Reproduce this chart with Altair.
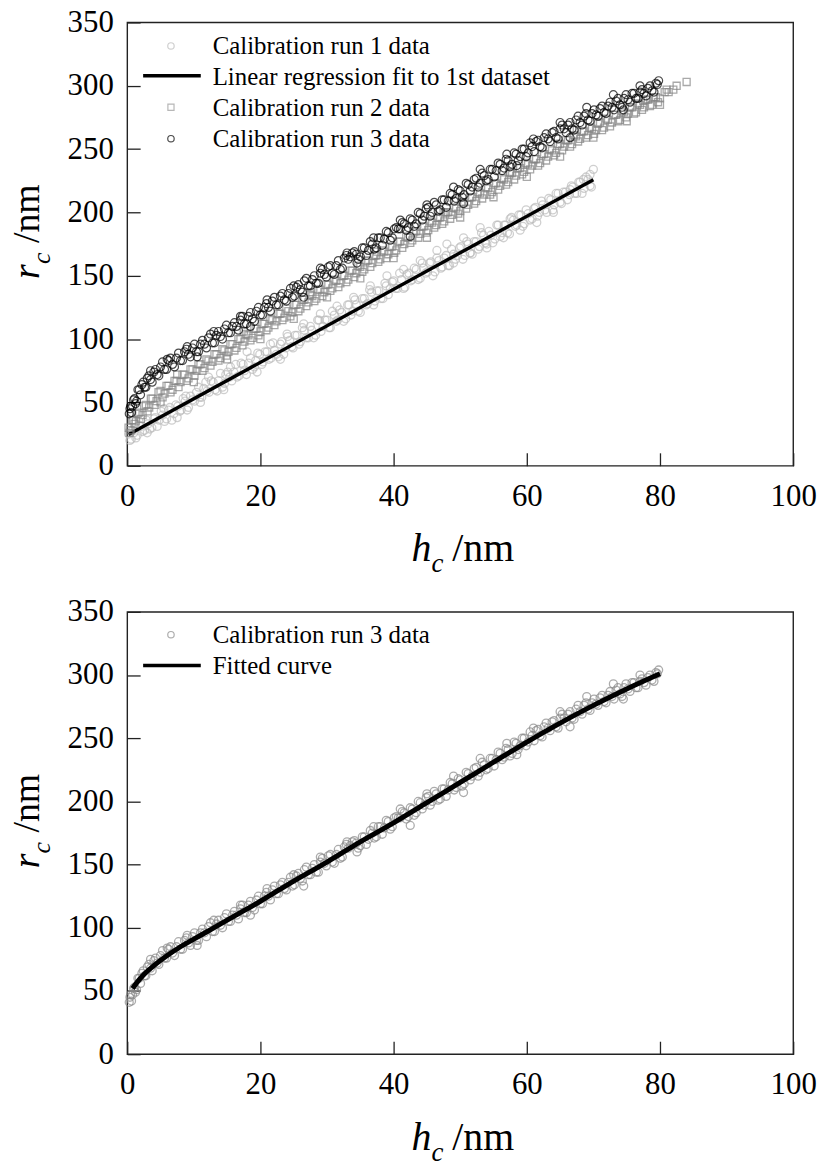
import altair as alt
import pandas as pd

# ---------------- data ----------------
run1_h = [0.2,0.6,1.0,1.5,2.0,2.6,3.1,3.7,4.2,4.8,5.3,5.9,6.4,7.0,7.6,8.1,8.7,9.2,9.8,10.4,10.9,11.5,12.0,12.6,13.2,13.7,14.3,14.8,15.4,16.0,
          16.5,17.1,17.6,18.2,18.8,19.3,19.9,20.4,21.0,21.6,22.1,22.7,23.2,23.8,24.4,24.9,25.5,26.0,26.6,27.2,27.7,28.3,28.8,29.4,30.0,
          30.5,31.1,31.6,32.2,32.8,33.3,33.9,34.4,35.0,35.6,36.1,36.7,37.2,37.8,38.4,38.9,39.5,40.0,40.6,41.2,41.7,42.3,42.8,43.4,44.0,
          44.5,45.1,45.6,46.2,46.8,47.3,47.9,48.4,49.0,49.6,50.1,50.7,51.2,51.8,52.4,52.9,53.5,54.0,54.6,55.2,55.7,56.3,56.8,57.4,58.0,
          58.5,59.1,59.6,60.2,60.8,61.3,61.9,62.4,63.0,63.6,64.1,64.7,65.2,65.8,66.4,66.9,67.5,68.0,68.6,69.2,69.7,70.0,
          0.4,0.8,1.3,1.8,2.3,2.9,3.4,4.0,4.5,5.1,
          5.6,6.2,6.7,7.3,7.9,8.4,9.0,9.5,10.1,10.7,
          11.2,11.8,12.3,12.9,13.5,14.0,14.6,15.1,15.7,16.3,
          16.8,17.4,17.9,18.5,19.1,19.6,20.2,20.7,21.3,21.9,
          22.4,23.0,23.5,24.1,24.7,25.2,25.8,26.3,26.9,27.5,
          28.0,28.6,29.1,29.7,30.3,30.8,31.4,31.9,32.5,33.1,
          33.6,34.2,34.7,35.3,35.9,36.4,37.0,37.5,38.1,38.7,
          39.2,39.8,40.3,40.9,41.5,42.0,42.6,43.1,43.7,44.3,
          44.8,45.4,45.9,46.5,47.1,47.6,48.2,48.7,49.3,49.9,
          50.4,51.0,51.5,52.1,52.7,53.2,53.8,54.3,54.9,55.5,
          56.0,56.6,57.1,57.7,58.3,58.8,59.4,59.9,60.5,61.1,
          61.6,62.2,62.7,63.3,63.9,64.4,65.0,65.5,66.1,66.7,
          67.2,67.8,68.3,68.9,69.5,
          5.5,8.8,12.2,15.5,18.0,21.5,24.0,26.5,29.0,31.5,
          34.0,36.5,39.0,41.5,44.0,46.5,49.0,51.5,54.0,56.5,
          59.0,48.0,50.5,53.0,57.5,61.5,64.0,66.5,68.5,69.5,
          3.0,7.5,11.0,14.5,19.5,23.0]
run1_r = [25,21,26,24,31,28,33,30,38,36,40,37,46,41,47,44,51,46,52,58,54,61,59,67,60,67,62,72,70,74,
          70,81,75,81,76,83,88,82,90,85,91,86,98,93,99,93,103,98,107,101,107,103,115,110,115,
          109,119,115,121,116,127,122,127,121,132,128,137,130,138,132,142,140,146,140,147,141,152,147,155,148,
          156,153,161,153,162,157,166,158,167,166,173,166,175,167,177,173,182,175,182,179,190,184,190,183,194,
          190,198,191,199,195,204,200,206,200,210,206,215,207,216,214,220,215,224,219,226,220,234,
          20,28,22,32,27,36,29,37,31,43,
          35,44,36,48,43,53,44,55,51,62,
          54,66,58,66,59,73,65,74,67,80,
          71,80,72,85,78,89,80,90,84,97,
          88,96,88,102,94,103,96,109,101,110,
          101,115,106,115,109,122,114,123,114,127,
          119,131,122,132,127,139,127,138,132,144,
          135,145,140,152,140,151,146,156,147,160,
          152,160,150,164,156,164,158,171,163,172,
          163,177,168,177,171,184,176,185,176,190,
          181,190,184,196,189,198,189,202,194,203,
          197,209,202,211,202,215,208,216,210,221,
          215,224,215,228,221,
          45,55,70,78,90,96,104,112,120,126,
          133,142,150,155,162,170,160,168,172,180,
          186,175,180,188,195,192,200,218,226,230,
          26,38,50,60,74,84]

run2_h = [0.2,0.5,0.9,1.3,1.8,2.3,2.8,3.3,3.8,4.4,5.0,5.6,6.2,6.8,7.4,8.0,8.6,9.2,9.8,10.4,11.0,11.6,12.2,12.8,13.4,14.0,14.6,15.2,
          15.8,16.4,17.0,17.6,18.2,18.8,19.4,20.0,20.6,21.2,21.8,22.4,23.0,23.6,24.2,24.8,25.4,26.0,26.6,27.2,27.8,28.4,29.0,29.6,
          30.2,30.8,31.4,32.0,32.6,33.2,33.8,34.4,35.0,35.6,36.2,36.8,37.4,38.0,38.6,39.2,39.8,40.4,41.0,41.6,42.2,42.8,43.4,44.0,
          44.6,45.2,45.8,46.4,47.0,47.6,48.2,48.8,49.4,50.0,50.6,51.2,51.8,52.4,53.0,53.6,54.2,54.8,55.4,56.0,56.6,57.2,57.8,58.4,
          59.0,59.6,60.2,60.8,61.4,62.0,62.6,63.2,63.8,64.4,65.0,65.6,66.2,66.8,67.4,68.0,68.6,69.2,69.8,70.4,71.0,71.6,72.2,72.8,
          73.4,74.0,74.6,75.2,75.8,76.4,77.0,77.6,78.2,78.8,79.4,80.0,80.7,81.3,82.0,84.0,
          0.35,0.7,1.1,1.55,2.05,2.55,3.05,3.55,4.1,4.7,
          5.3,5.9,6.5,7.1,7.7,8.3,8.9,9.5,10.1,10.7,
          11.3,11.9,12.5,13.1,13.7,14.3,14.9,15.5,16.1,16.7,
          17.3,17.9,18.5,19.1,19.7,20.3,20.9,21.5,22.1,22.7,
          23.3,23.9,24.5,25.1,25.7,26.3,26.9,27.5,28.1,28.7,
          29.3,29.9,30.5,31.1,31.7,32.3,32.9,33.5,34.1,34.7,
          35.3,35.9,36.5,37.1,37.7,38.3,38.9,39.5,40.1,40.7,
          41.3,41.9,42.5,43.1,43.7,44.3,44.9,45.5,46.1,46.7,
          47.3,47.9,48.5,49.1,49.7,50.3,50.9,51.5,52.1,52.7,
          53.3,53.9,54.5,55.1,55.7,56.3,56.9,57.5,58.1,58.7,
          59.3,59.9,60.5,61.1,61.7,62.3,62.9,63.5,64.1,64.7,
          65.3,65.9,66.5,67.1,67.7,68.3,68.9,69.5,70.1,70.7,
          71.3,71.9,72.5,73.1,73.7,74.3,74.9,75.5,76.1,76.7,
          77.3,77.9,78.5,79.1,79.7,81.0,82.5,
          5.0,10.0,15.0,20.0,25.0,30.0,35.0,40.0,45.0,50.0,
          55.0,60.0,65.0,70.0,75.0,80.0,7.5,17.5,27.5,37.5,
          47.5,57.5,67.5,77.5]
run2_r = [30,28,36,35,42,40,48,46,53,51,59,57,63,60,67,66,72,69,76,75,80,77,83,82,88,85,91,90,
          96,93,100,98,103,101,108,106,112,109,115,114,120,117,122,121,127,124,131,129,134,132,139,137,
          143,140,146,144,150,147,154,152,157,155,162,160,166,163,169,167,173,170,177,175,180,178,185,183,
          189,186,192,190,196,193,200,198,203,201,208,206,212,209,215,214,219,216,223,221,226,224,231,229,
          235,232,238,237,242,239,246,244,249,247,254,252,257,254,260,258,264,261,266,265,271,267,273,271,
          277,273,279,278,283,279,285,283,289,285,291,290,295,295,297,303,
          26,36,33,41,37,47,43,53,48,58,
          54,63,58,67,62,72,67,76,71,80,
          75,84,79,88,83,92,87,96,91,100,
          95,104,99,108,103,112,107,116,111,120,
          115,124,118,127,122,131,126,135,130,139,
          134,143,138,147,141,150,145,154,149,158,
          153,162,157,166,161,170,164,173,168,177,
          172,181,176,185,180,189,184,193,188,196,
          191,200,195,204,199,208,203,212,207,216,
          211,220,214,223,218,227,222,231,226,235,
          230,239,234,242,237,246,241,250,245,254,
          249,257,252,261,256,264,259,267,262,270,
          265,274,268,277,272,280,275,283,278,286,
          281,289,284,291,287,297,300,
          50,66,84,100,116,133,148,164,180,196,
          212,228,244,259,272,285,72,106,137,169,
          200,232,265,288]

run3_h = [0.3,0.5,0.8,1.1,1.4,1.8,2.2,2.6,3.0,3.5,4.0,4.5,5.0,5.6,6.2,6.8,7.4,8.0,8.6,9.2,9.8,10.4,11.0,11.6,12.2,12.8,13.4,14.0,
          14.6,15.2,15.8,16.4,17.0,17.6,18.2,18.8,19.4,20.0,20.6,21.2,21.8,22.4,23.0,23.6,24.2,24.8,25.4,26.0,26.6,27.2,27.8,28.4,
          29.0,29.6,30.2,30.8,31.4,32.0,32.6,33.2,33.8,34.4,35.0,35.6,36.2,36.8,37.4,38.0,38.6,39.2,39.8,40.4,41.0,41.6,42.2,42.8,
          43.4,44.0,44.6,45.2,45.8,46.4,47.0,47.6,48.2,48.8,49.4,50.0,50.6,51.2,51.8,52.4,53.0,53.6,54.2,54.8,55.4,56.0,56.6,57.2,
          57.8,58.4,59.0,59.6,60.2,60.8,61.4,62.0,62.6,63.2,63.8,64.4,65.0,65.6,66.2,66.8,67.4,68.0,68.6,69.2,69.8,70.4,71.0,71.6,
          72.2,72.8,73.4,74.0,74.6,75.2,75.8,76.4,77.0,77.6,78.2,78.8,79.4,79.8,
          0.4,0.65,0.95,1.25,1.6,2.0,2.4,2.8,3.25,3.75,
          4.25,4.75,5.3,5.9,6.5,7.1,7.7,8.3,8.9,9.5,
          10.1,10.7,11.3,11.9,12.5,13.1,13.7,14.3,14.9,15.5,
          16.1,16.7,17.3,17.9,18.5,19.1,19.7,20.3,20.9,21.5,
          22.1,22.7,23.3,23.9,24.5,25.1,25.7,26.3,26.9,27.5,
          28.1,28.7,29.3,29.9,30.5,31.1,31.7,32.3,32.9,33.5,
          34.1,34.7,35.3,35.9,36.5,37.1,37.7,38.3,38.9,39.5,
          40.1,40.7,41.3,41.9,42.5,43.1,43.7,44.3,44.9,45.5,
          46.1,46.7,47.3,47.9,48.5,49.1,49.7,50.3,50.9,51.5,
          52.1,52.7,53.3,53.9,54.5,55.1,55.7,56.3,56.9,57.5,
          58.1,58.7,59.3,59.9,60.5,61.1,61.7,62.3,62.9,63.5,
          64.1,64.7,65.3,65.9,66.5,67.1,67.7,68.3,68.9,69.5,
          70.1,70.7,71.3,71.9,72.5,73.1,73.7,74.3,74.9,75.5,
          76.1,76.7,77.3,77.9,78.5,79.1,79.6,
          3.5,6.0,9.0,13.0,17.0,21.0,25.0,29.0,33.0,37.0,
          41.0,45.0,49.0,53.0,57.0,61.0,65.0,69.0,73.0,77.0,
          10.5,18.5,26.5,34.5,42.5,50.5,58.5,66.5,74.5]
run3_r = [41,47,47,53,51,60,64,62,69,68,74,72,78,76,83,80,85,83,90,88,93,90,96,96,101,97,103,102,
          108,105,110,110,115,112,118,116,122,119,125,125,130,127,134,131,136,133,141,139,146,142,147,144,
          152,151,157,152,158,155,164,163,168,167,165,172,170,175,172,180,179,184,180,188,187,191,188,194,
          191,199,197,204,200,206,202,210,209,214,211,217,214,222,220,227,223,229,226,234,233,238,235,241,
          238,246,244,250,247,252,256,252,259,258,263,259,266,266,269,266,273,271,276,273,278,277,282,279,
          284,283,288,285,290,289,294,290,295,294,298,296,302,304,
          45,42,52,49,60,56,66,62,71,66,
          76,71,82,76,85,78,89,83,92,86,
          96,90,99,93,104,97,106,100,111,105,
          113,107,118,112,121,114,125,119,128,122,
          133,127,136,130,140,134,143,137,148,142,
          150,144,155,149,158,151,162,156,166,165,
          169,163,172,166,177,171,180,174,185,178,
          187,187,192,186,195,189,200,194,203,197,
          208,201,210,204,215,209,218,212,223,217,
          226,220,231,225,234,228,239,233,242,236,
          247,241,250,244,255,248,257,251,262,256,
          264,258,269,263,271,265,276,269,278,272,
          281,276,284,278,287,281,290,283,293,287,
          294,290,297,292,300,295,301,
          75,84,94,106,118,131,142,156,168,180,
          194,206,220,234,246,258,271,283,293,300,
          86,110,133,160,181,207,237,259,281]

fit1_h = [0.2, 70.0]
fit1_r = [24.6, 225.8]

curve_h = [0.8, 1.5, 2.5, 4, 6, 8, 10, 13, 16, 20, 25, 30, 35, 40, 45, 50, 55, 60, 65, 70, 75, 80]
curve_r = [52, 57, 63, 70, 78, 85, 91, 100, 109, 121, 137, 152, 168, 183, 199, 215, 231, 247, 262, 276, 289, 301]

x_ticks = [0, 20, 40, 60, 80, 100]
y_ticks = [0, 50, 100, 150, 200, 250, 300, 350]

top_legend = ["Calibration run 1 data", "Linear regression fit to 1st dataset",
              "Calibration run 2 data", "Calibration run 3 data"]
bottom_legend = ["Calibration run 3 data", "Fitted curve"]

# ---------------- styling ----------------
FONT = "Liberation Serif"
W = 670
H1 = 446
H2 = 445
C1 = "#bcbcbc"
C2 = "#858585"
C3 = "#000000"
CB = "#8a8a8a"
TICKFS = 31

xscale = alt.Scale(domain=[0, 100], nice=False, zero=False)
yscale = alt.Scale(domain=[0, 350], nice=False, zero=False)


def xaxis():
    return alt.Axis(values=x_ticks, offset=-13, tickSize=13, domain=False, grid=False,
                    labelPadding=16, labelFont=FONT, labelFontSize=TICKFS, labelColor="black",
                    tickColor="#222", tickWidth=1.3, title=None, labelFlush=False,
                    labelOverlap=False)


def yaxis():
    return alt.Axis(values=y_ticks, offset=-13, tickSize=13, domain=False, grid=False,
                    labelPadding=14, labelFont=FONT, labelFontSize=TICKFS, labelColor="black",
                    tickColor="#222", tickWidth=1.3, title=None, labelOverlap=False)


def X():
    return alt.X("h:Q", scale=xscale, axis=xaxis())


def Y():
    return alt.Y("r:Q", scale=yscale, axis=yaxis())


dummy = alt.Data(values=[{"a": 1}])


def txt(s, x, y, size, style="normal", angle=0):
    return alt.Chart(dummy).mark_text(
        text=s, font=FONT, fontSize=size, fontStyle=style, angle=angle,
        align="left", baseline="alphabetic", color="black"
    ).encode(x=alt.value(x), y=alt.value(y))


def sym(x, y, shape, color, size=42, sw=1.2):
    return alt.Chart(dummy).mark_point(shape=shape, filled=False, size=size, strokeWidth=sw,
                                       color=color).encode(x=alt.value(x), y=alt.value(y))


def lrule(y, width=3.4):
    return alt.Chart(dummy).mark_rule(color="black", strokeWidth=width).encode(
        x=alt.value(16), x2=alt.value(74), y=alt.value(y))


def titles(h):
    base = h + 96
    return [
        txt("h", 286, base, 40, "italic"),
        txt("c", 306, base + 11, 27, "italic"),
        txt("/nm", 327, base, 40),
        txt("r", -89, 258, 38, "italic", 270),
        txt("c", -78, 243, 26, "italic", 270),
        txt("/nm", -89, 222, 38, "normal", 270),
    ]


def pts(h, r, shape, color, size=64, sw=1.3):
    df = pd.DataFrame({"h": h, "r": r})
    return alt.Chart(df).mark_point(shape=shape, filled=False, size=size, strokeWidth=sw,
                                    color=color).encode(x=X(), y=Y())


def line(h, r, width):
    df = pd.DataFrame({"h": h, "r": r})
    return alt.Chart(df).mark_line(color="black", strokeWidth=width, interpolate="monotone").encode(
        x=X(), y=Y())


bounds_rule = alt.Chart(dummy).mark_rule(strokeOpacity=0, opacity=0).encode(
    x=alt.value(-127), y=alt.value(-18), y2=alt.value(0))

top_layers = [
    pts(run1_h, run1_r, "circle", C1),
    line(fit1_h, fit1_r, 3.4),
    pts(run2_h, run2_r, "square", C2, size=50),
    pts(run3_h, run3_r, "circle", C3, sw=1.2),
    sym(44, 23.7, "circle", C1),
    lrule(53.7),
    sym(44, 85.3, "square", "#999999", size=38),
    sym(44, 117, "circle", C3),
    txt(top_legend[0], 86, 32, 25),
    txt(top_legend[1], 86, 63, 25),
    txt(top_legend[2], 86, 94, 25),
    txt(top_legend[3], 86, 125, 25),
    bounds_rule,
] + titles(H1)

bottom_layers = [
    pts(run3_h, run3_r, "circle", CB),
    line(curve_h, curve_r, 5),
    sym(44, 23, "circle", CB),
    lrule(54),
    txt(bottom_legend[0], 86, 31.7, 25),
    txt(bottom_legend[1], 86, 62.3, 25),
] + titles(H2)

top = alt.layer(*top_layers).properties(width=W, height=H1)
bottom = alt.layer(*bottom_layers).properties(width=W, height=H2)

chart = alt.vconcat(top, bottom, spacing=147, bounds="flush").properties(
    padding={"left": 0, "top": 0, "right": 5, "bottom": 5},
    background="white",
).configure_view(stroke="#222", strokeWidth=1.4)

chart.save("out.html", embed_options={"renderer": "svg", "actions": False})
